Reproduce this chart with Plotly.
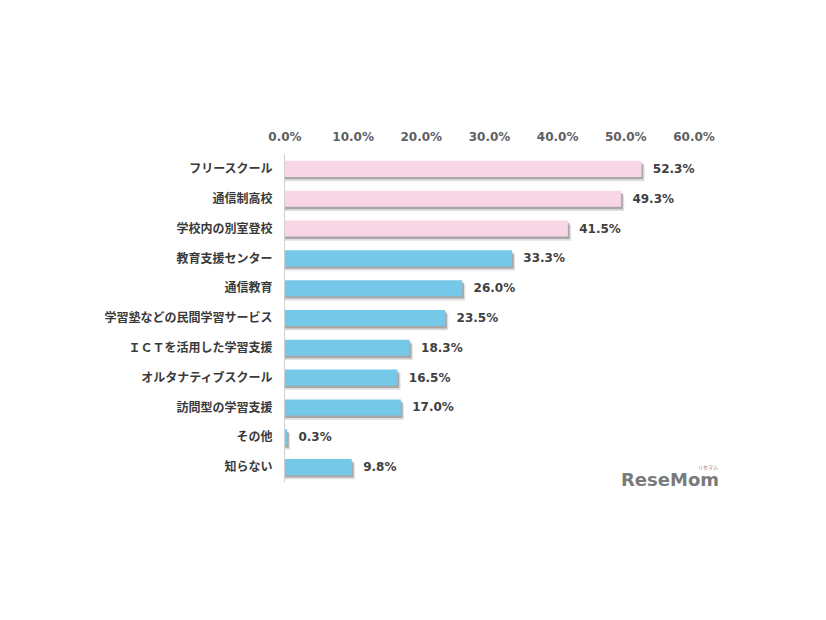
import plotly.graph_objects as go

categories = ["フリースクール", "通信制高校", "学校内の別室登校", "教育支援センター", "通信教育",
              "学習塾などの民間学習サービス", "ＩＣＴを活用した学習支援", "オルタナティブスクール",
              "訪問型の学習支援", "その他", "知らない"]
values = [52.3, 49.3, 41.5, 33.3, 26.0, 23.5, 18.3, 16.5, 17.0, 0.3, 9.8]
tick_vals = [0, 10, 20, 30, 40, 50, 60]
tick_text = ["0.0%", "10.0%", "20.0%", "30.0%", "40.0%", "50.0%", "60.0%"]

PINK = "#F8D6E6"
BLUE = "#76C8E9"
colors = [PINK] * 3 + [BLUE] * 8
pos = list(range(len(categories)))

# page body has an 8px default margin
OFF = 8
L, T = 285 - OFF, 154 - OFF
PW, PH = 409, 328

W = 0.54
fig = go.Figure()
# soft shadow (two layers)
fig.add_trace(go.Bar(
    y=pos, x=[v + 0.45 for v in values], orientation="h",
    width=W, offset=-W / 2 + 0.14,
    marker=dict(color="rgba(130,130,130,0.25)", line=dict(width=0)),
    hoverinfo="skip", showlegend=False,
))
fig.add_trace(go.Bar(
    y=pos, x=[v + 0.25 for v in values], orientation="h",
    width=W, offset=-W / 2 + 0.08,
    marker=dict(color="rgba(100,100,100,0.45)", line=dict(width=0)),
    hoverinfo="skip", showlegend=False,
))
fig.add_trace(go.Bar(
    y=pos, x=values, orientation="h",
    width=W, offset=-W / 2,
    marker=dict(color=colors, line=dict(width=0)),
    text=["\u00a0\u00a0" + f"{v:.1f}%" for v in values],
    textposition="outside", cliponaxis=False,
    textfont=dict(family="DejaVu Sans", size=12, color="#404040", weight="bold"),
    showlegend=False,
))

fig.update_layout(
    width=826, height=620,
    paper_bgcolor="white", plot_bgcolor="white",
    margin=dict(l=L, r=826 - L - PW, t=T, b=620 - T - PH, autoexpand=False),
    barmode="overlay",
    xaxis=dict(
        range=[0, 60], side="top", tickvals=tick_vals, ticktext=tick_text,
        showgrid=False, zeroline=False, showline=False, ticks="",
        ticklabelstandoff=10,
        tickfont=dict(family="DejaVu Sans", size=12, color="#606060", weight="bold"),
    ),
    yaxis=dict(
        range=[10.5, -0.5], tickvals=pos, ticktext=categories,
        showgrid=False, zeroline=False, showline=True, linecolor="#D0D0D0", linewidth=1,
        ticks="", ticklabelstandoff=9,
        tickfont=dict(family="Noto Sans CJK JP", size=12, color="#3A3A3A", weight=600),
    ),
    annotations=[
        dict(text="<b>ReseMom</b>", x=(670 - 285) / PW, y=1 - (479 - 154) / PH,
             xref="paper", yref="paper", xanchor="center", yanchor="middle",
             showarrow=False, font=dict(family="DejaVu Sans", size=18, color="#7A7A7A")),
        dict(text="リセマム", x=(708 - 285) / PW, y=1 - (467 - 154) / PH,
             xref="paper", yref="paper", xanchor="center", yanchor="middle",
             showarrow=False, font=dict(family="Noto Sans CJK JP", size=5, color="#7A7A7A")),
    ],
)
fig.write_html("out.html")
